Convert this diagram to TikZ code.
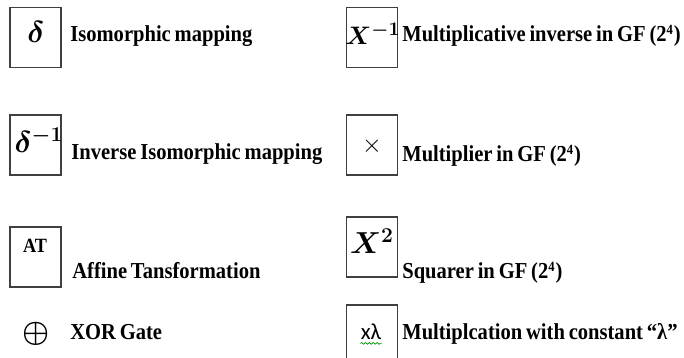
\documentclass[tikz,border=0pt]{standalone}
\usepackage{fontspec}
\setmainfont{Liberation Serif}
\newfontfamily\lblfont{Liberation Serif}[FakeStretch=0.9, WordSpace=0.75]
\newfontfamily\calfont{Carlito}
\newcommand{\supfour}{\textsuperscript{\fontsize{8}{9}\selectfont 4}}
\usetikzlibrary{positioning, decorations.pathmorphing}

\begin{document}
\begin{tikzpicture}[
    x=0.02cm, y=-0.02cm,
    symbox/.style={
      draw=black!75, line width=0.6pt, inner sep=0pt,
      minimum width=1.02cm, minimum height=1.2cm},
    desc/.style={
      anchor=base west, inner sep=0pt,
      font=\lblfont\bfseries\fontsize{13}{15}\selectfont},
    sym/.style={anchor=base, inner sep=0pt,
      font=\boldmath\fontsize{17}{19}\selectfont},
    squiggle/.style={green!55!black, line width=0.4pt, decorate,
      decoration={snake, amplitude=0.5pt, segment length=2.2pt}},
  ]
  \clip (0,0) rectangle (684,358);

  % -- left column --
  \node[symbox] (dbox)    at (35.5,37.5) {};
  \node[sym] (dsym)       at (36,43) {$\delta$};
  \node[desc] (dtxt)      at (70,42) {Isomorphic mapping};

  \node[symbox] (dinvbox) at (35.5,145) {};
  \node[sym] (dinvsym)    at (39,153) {$\delta^{-1}$};
  \node[desc] (dinvtxt)   at (71,160) {Inverse Isomorphic mapping};

  \node[symbox] (atbox)   at (35.5,257) {};
  \node[sym, font=\lblfont\bfseries\fontsize{11.5}{13}\selectfont]
    (atsym)               at (35,253) {AT};
  \node[desc] (attxt)     at (72,279) {Affine Tansformation};

  \node[inner sep=0pt, font=\boldmath\fontsize{16}{18}\selectfont]
    (xorsym)              at (36,334) {$\oplus$};
  \node[desc] (xortxt)    at (70,339) {XOR Gate};

  % -- right column --
  \node[symbox] (xinvbox) at (372,37.5) {};
  \node[sym, font=\boldmath\fontsize{15}{17}\selectfont]
    (xinvsym)             at (373,45) {$X^{-1}$};
  \node[desc] (xinvtxt)   at (402,42) {Multiplicative inverse in GF (2\supfour)};

  \node[symbox] (mulbox)  at (372,145) {};
  \node[inner sep=0pt, font=\fontsize{15}{17}\selectfont]
    (mulsym)              at (372,146) {$\times$};
  \node[desc] (multxt)    at (402,162) {Multiplier in GF (2\supfour)};

  \node[symbox] (sqbox)   at (372,247) {};
  \node[sym] (sqsym)      at (372,254) {$X^{2}$};
  \node[desc] (sqtxt)     at (402,279) {Squarer in GF (2\supfour)};

  \node[symbox] (lambox)  at (372,335) {};
  \node[sym, font=\calfont\fontsize{13}{15}\selectfont]
    (lamsym)              at (371,339) {xλ};
  \draw[squiggle] ([yshift=-2.5pt]lamsym.base west)
    -- ([yshift=-2.5pt]lamsym.base east);
  \node[desc] (lamtxt)    at (402,339) {Multiplcation with constant “λ”};

\end{tikzpicture}
\end{document}
